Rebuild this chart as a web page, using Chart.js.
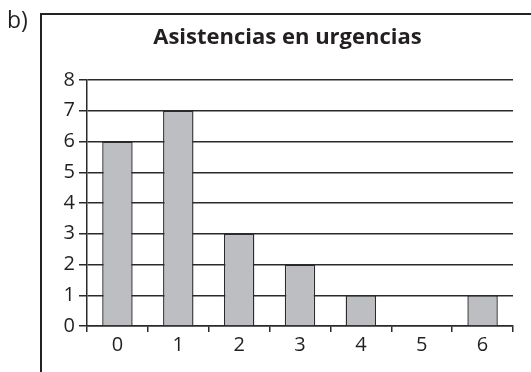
<!DOCTYPE html>
<html>
<head>
<meta charset="utf-8">
<script src="https://cdn.jsdelivr.net/npm/chart.js@4/dist/chart.umd.min.js"></script>
<style>
  html, body { margin: 0; padding: 0; background: #fff; }
  #c { display: block; }
</style>
</head>
<body>
<canvas id="c" width="531" height="372"></canvas>
<script>
// Number of emergency visits (0..6) and how many people had each count
const categories = ['0', '1', '2', '3', '4', '5', '6'];
const frequencies = [6, 7, 3, 2, 1, 0, 1];
const yTicks = [0, 1, 2, 3, 4, 5, 6, 7, 8];
const chartTitle = 'Asistencias en urgencias';
const panelLabel = 'b)';

const ink = '#231f20';
const lineInk = '#2a2a2a';

// Draws the open frame (top and left edges) and the panel letter
const framePlugin = {
  id: 'frame',
  beforeDraw(chart) {
    const ctx = chart.ctx;
    ctx.save();
    ctx.strokeStyle = '#222';
    ctx.lineWidth = 2;
    ctx.beginPath();
    ctx.moveTo(531, 14);
    ctx.lineTo(41, 14);
    ctx.lineTo(41, 372);
    ctx.stroke();
    ctx.fillStyle = ink;
    ctx.font = '23px "Open Sans"';
    ctx.textBaseline = 'alphabetic';
    ctx.textAlign = 'left';
    ctx.fillText(panelLabel, 7, 28);
    ctx.restore();
  }
};

new Chart(document.getElementById('c'), {
  type: 'bar',
  data: {
    labels: categories,
    datasets: [{
      data: frequencies,
      backgroundColor: '#bdbec2',
      borderColor: '#2b2b2b',
      borderWidth: 1.4,
      barPercentage: 0.5,
      categoryPercentage: 1.0
    }]
  },
  options: {
    responsive: false,
    animation: false,
    layout: { padding: { left: 62, right: 18, top: 0, bottom: 0 } },
    plugins: {
      legend: { display: false },
      tooltip: { enabled: false },
      title: {
        display: true,
        text: chartTitle,
        color: ink,
        font: { family: '"Open Sans"', size: 22, weight: 'bold', lineHeight: 1.2 },
        padding: { top: 24.8, bottom: 28.8 }
      }
    },
    scales: {
      x: {
        afterFit(scale) { scale.height = 46; },
        grid: {
          display: true,
          drawOnChartArea: false,
          offset: true,
          tickLength: 6,
          color: lineInk,
          lineWidth: 1.5
        },
        border: { display: true, color: lineInk, width: 1.5 },
        ticks: {
          color: ink,
          font: { family: '"Open Sans"', size: 20 },
          padding: 1
        }
      },
      y: {
        min: 0,
        max: 8,
        afterFit(scale) { scale.width = 25; },
        afterBuildTicks(scale) { scale.ticks = yTicks.map(v => ({ value: v })); },
        grid: {
          color: lineInk,
          lineWidth: 1.5,
          tickLength: 8
        },
        border: { display: true, color: lineInk, width: 1.5 },
        ticks: {
          color: ink,
          font: { family: '"Open Sans"', size: 20 },
          padding: 4
        }
      }
    }
  },
  plugins: [framePlugin]
});
</script>
</body>
</html>
